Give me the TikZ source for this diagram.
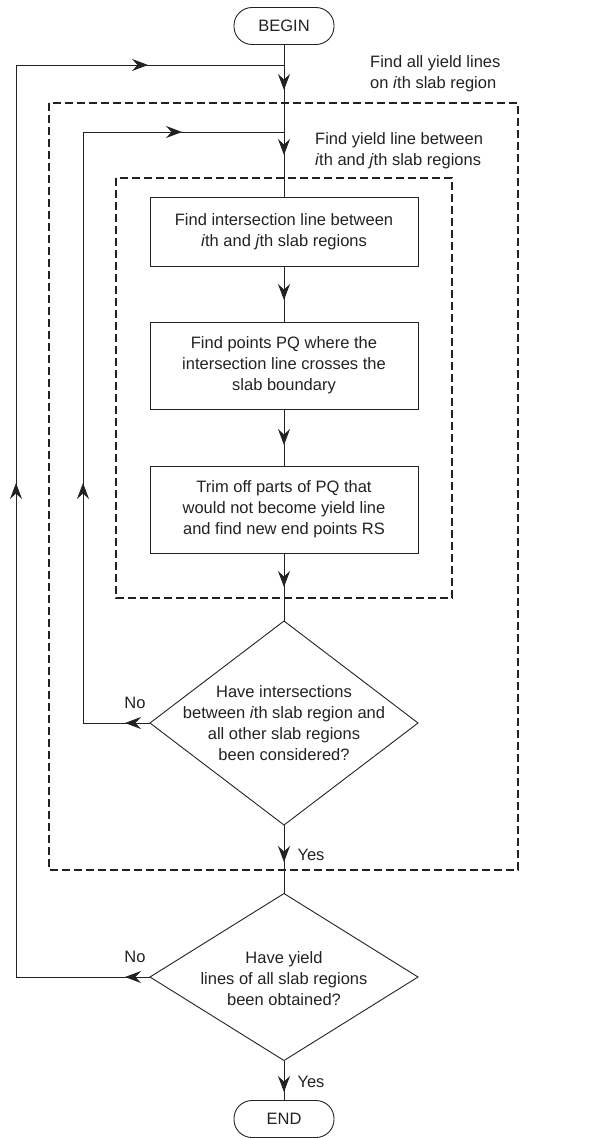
\documentclass[tikz,border=0pt]{standalone}
\usepackage{fontspec}
\setmainfont{Liberation Sans}
\usetikzlibrary{arrows.meta,shapes.geometric}
\definecolor{ink}{HTML}{222222}
\tikzset{
  every node/.style={font=\fontsize{16.5}{21}\selectfont, text=ink},
  line/.style={draw=ink, line width=0.9pt},
  arr/.style={line, -{Stealth[length=16pt,width=12pt,inset=5.5pt]}},
  procbox/.style={line, rectangle, minimum width=268pt, inner sep=0pt, outer sep=0pt, align=center},
  term/.style={line, rectangle, rounded corners=18pt, minimum width=100pt, minimum height=37pt, inner sep=0pt, outer sep=0pt},
  decision/.style={line, diamond, minimum width=268pt, inner sep=0pt, outer sep=0pt},
  dashbox/.style={draw=ink, line width=1.2pt, dash pattern=on 8pt off 4pt},
  lbl/.style={align=left, anchor=west, inner sep=0pt}
}
\begin{document}
\begin{tikzpicture}[x=1pt,y=-1pt]
\useasboundingbox (0,0) rectangle (590,1138);

% dashed frames
\draw[dashbox] (49,103) rectangle (518,870);
\draw[dashbox] (116,178) rectangle (452,598);

% nodes
\node[term] (begin) at (284,26) {BEGIN};
\node[procbox, minimum height=69pt] (b1) at (284,231.5) {Find intersection line between\\\textit{i}th and \textit{j}th slab regions};
\node[procbox, minimum height=87pt] (b2) at (284,365.5) {Find points PQ where the\\intersection line crosses the\\slab boundary};
\node[procbox, minimum height=87pt] (b3) at (284,509.5) {Trim off parts of PQ that\\would not become yield line\\and find new end points RS};
\node[decision, minimum height=204pt] (d1) at (284,723) {};
\node[align=center, inner sep=0pt] (d1t) at (284,723) {Have intersections\\between \textit{i}th slab region and\\all other slab regions\\been considered?};
\node[decision, minimum height=167pt] (d2) at (284,977) {};
\node[align=center, inner sep=0pt] (d2t) at (284,979) {Have yield\\lines of all slab regions\\been obtained?};
\node[term] (end) at (284,1119) {END};

% labels
\node[lbl] (lab1) at (370,74) {Find all yield lines\\on \textit{i}th slab region};
\node[lbl] (lab2) at (315,151) {Find yield line between\\\textit{i}th and \textit{j}th slab regions};
\node (no1) at (135,703) {No};
\node (yes1) at (311,855) {Yes};
\node (no2) at (135,957) {No};
\node (yes2) at (311,1082) {Yes};

% coordinates
\coordinate (J1) at (284,65);
\coordinate (J2) at (284,132);
\coordinate (L1t) at (16,65);
\coordinate (L1b) at (16,977);
\coordinate (L2t) at (83,132);
\coordinate (L2b) at (83,723);
\coordinate (tD1) at (284,90);
\coordinate (tD2) at (284,155);
\coordinate (tR1) at (148,65);
\coordinate (tR2) at (182,132);
\coordinate (tU1) at (16,483);
\coordinate (tU2) at (83,483);
\coordinate (tB12) at (284,300);
\coordinate (tB23) at (284,445);
\coordinate (tB3) at (284,587);
\coordinate (tY1) at (284,862);
\coordinate (tY2) at (284,1092);
\coordinate (tN1) at (125,723);
\coordinate (tN2) at (125,977);

% main spine
\draw[line] (begin.south) -- (b1.north);
\draw[arr] (J1) -- (tD1);
\draw[arr] (J2) -- (tD2);
\draw[line] (b1.south) -- (b2.north);
\draw[arr] (b1.south) -- (tB12);
\draw[line] (b2.south) -- (b3.north);
\draw[arr] (b2.south) -- (tB23);
\draw[line] (b3.south) -- (d1.north);
\draw[arr] (b3.south) -- (tB3);
\draw[line] (d1.south) -- (d2.north);
\draw[arr] (d1.south) -- (tY1);
\draw[line] (d2.south) -- (end.north);
\draw[arr] (d2.south) -- (tY2);

% inner loop
\draw[line] (d1.west) -- (L2b) -- (L2t) -- (J2);
\draw[arr] (d1.west) -- (tN1);
\draw[arr] (L2b) -- (tU2);
\draw[arr] (L2t) -- (tR2);

% outer loop
\draw[line] (d2.west) -- (L1b) -- (L1t) -- (J1);
\draw[arr] (d2.west) -- (tN2);
\draw[arr] (L1b) -- (tU1);
\draw[arr] (L1t) -- (tR1);
\end{tikzpicture}
\end{document}
